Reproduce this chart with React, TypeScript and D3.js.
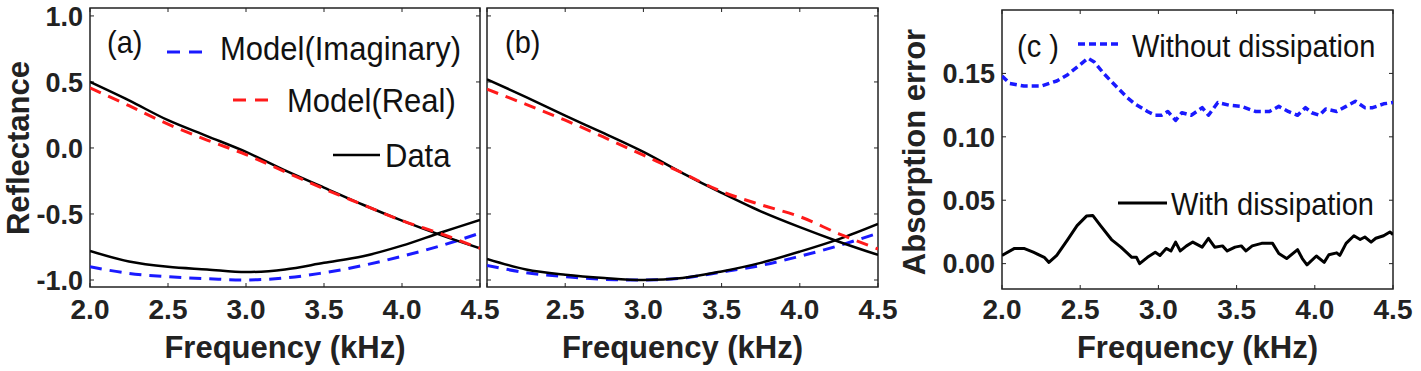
import React, { useEffect, useRef } from 'react';
import * as d3 from 'd3';

// frequency grid for panels (a) and (b), kHz
const freqAB = [2.0, 2.25, 2.5, 2.75, 3.0, 3.25, 3.5, 3.75, 4.0, 4.25, 4.5];

// panel (a)
const aDataReal = [0.5, 0.36, 0.21, 0.09, -0.03, -0.17, -0.3, -0.43, -0.55, -0.66, -0.76];
const aModelReal = [0.455, 0.32, 0.18, 0.06, -0.05, -0.18, -0.31, -0.43, -0.55, -0.65, -0.76];
const aDataImag = [-0.78, -0.86, -0.9, -0.92, -0.94, -0.92, -0.87, -0.82, -0.74, -0.64, -0.545];
const aModelImag = [-0.9, -0.95, -0.975, -0.99, -1.0, -0.985, -0.945, -0.89, -0.82, -0.74, -0.645];

// panel (b)
const bDataReal = [0.52, 0.385, 0.245, 0.11, -0.03, -0.19, -0.34, -0.48, -0.6, -0.71, -0.81];
const bModelReal = [0.445, 0.33, 0.21, 0.08, -0.055, -0.19, -0.33, -0.43, -0.52, -0.65, -0.765];
const bDataImag = [-0.84, -0.92, -0.96, -0.985, -1.0, -0.985, -0.935, -0.87, -0.785, -0.69, -0.575];
const bModelImag = [-0.89, -0.945, -0.975, -0.995, -1.0, -0.985, -0.94, -0.89, -0.82, -0.74, -0.645];

// panel (c): absorption error
const freqWithout = [2.0, 2.05, 2.14, 2.25, 2.35, 2.42, 2.5, 2.55, 2.59, 2.65, 2.72, 2.8, 2.85, 2.93, 2.98, 3.02, 3.06, 3.11, 3.15, 3.21, 3.28, 3.32, 3.38, 3.45, 3.53, 3.62, 3.71, 3.77, 3.83, 3.89, 3.94, 3.98, 4.03, 4.07, 4.14, 4.2, 4.26, 4.32, 4.37, 4.44, 4.5];
const errWithout = [0.148, 0.142, 0.14, 0.14, 0.144, 0.149, 0.157, 0.162, 0.159, 0.15, 0.141, 0.131, 0.126, 0.12, 0.117, 0.117, 0.12, 0.113, 0.119, 0.117, 0.123, 0.117, 0.127, 0.125, 0.124, 0.12, 0.12, 0.124, 0.12, 0.117, 0.123, 0.119, 0.117, 0.122, 0.12, 0.124, 0.128, 0.123, 0.123, 0.126, 0.127];
const freqWith = [2.0, 2.08, 2.14, 2.2, 2.27, 2.3, 2.35, 2.42, 2.48, 2.54, 2.58, 2.63, 2.7, 2.76, 2.83, 2.86, 2.88, 2.93, 2.98, 3.01, 3.05, 3.08, 3.11, 3.14, 3.18, 3.22, 3.28, 3.32, 3.36, 3.41, 3.44, 3.49, 3.53, 3.56, 3.6, 3.66, 3.73, 3.77, 3.82, 3.89, 3.92, 3.95, 4.01, 4.06, 4.09, 4.14, 4.16, 4.2, 4.25, 4.29, 4.32, 4.36, 4.39, 4.44, 4.48, 4.5];
const errWith = [0.0065, 0.012, 0.012, 0.009, 0.005, 0.001, 0.0065, 0.019, 0.03, 0.0375, 0.038, 0.03, 0.019, 0.013, 0.005, 0.005, 0.0, 0.005, 0.009, 0.0065, 0.012, 0.01, 0.017, 0.01, 0.014, 0.017, 0.013, 0.02, 0.013, 0.014, 0.01, 0.013, 0.014, 0.01, 0.014, 0.016, 0.016, 0.008, 0.004, 0.011, 0.004, -0.001, 0.006, 0.001, 0.007, 0.0085, 0.0065, 0.016, 0.022, 0.019, 0.021, 0.017, 0.02, 0.022, 0.025, 0.023];

const xTicks = [2.0, 2.5, 3.0, 3.5, 4.0, 4.5];
const yTicksAB = [-1.0, -0.5, 0.0, 0.5, 1.0];
const yTicksC = [0.0, 0.05, 0.1, 0.15];

const FONT = 'Liberation Sans, Arial, Helvetica, sans-serif';
const AXIS = '#222';
const BLUE = '#1a1aff';
const RED = '#ff1a1a';

const App = () => {
  const svgRef = useRef(null);

  useEffect(() => {
    const width = 1421;
    const height = 371;

    d3.select(svgRef.current).selectAll('*').remove();
    const svg = d3.select(svgRef.current).attr('width', width).attr('height', height);

    const panels = [
      { id: 'a', left: 90, right: 480, top: 8, bottom: 287, ydom: [-1.053, 1.06], yTicks: yTicksAB, yfmt: 1, yLabels: true, xLabelSkip: [] },
      { id: 'b', left: 487, right: 878, top: 8, bottom: 287, ydom: [-1.053, 1.06], yTicks: yTicksAB, yfmt: 1, yLabels: false, xLabelSkip: [2.0] },
      { id: 'c', left: 1002, right: 1393, top: 10, bottom: 289, ydom: [-0.02, 0.2], yTicks: yTicksC, yfmt: 2, yLabels: true, xLabelSkip: [] },
    ];

    const scales = {};

    panels.forEach(p => {
      const x = d3.scaleLinear().domain([2.0, 4.5]).range([p.left, p.right]);
      const y = d3.scaleLinear().domain(p.ydom).range([p.bottom, p.top]);
      scales[p.id] = { x, y };

      svg.append('clipPath').attr('id', 'clip-' + p.id)
        .append('rect')
        .attr('x', p.left).attr('y', p.top)
        .attr('width', p.right - p.left).attr('height', p.bottom - p.top);

      const g = svg.append('g');
      const tl = 4;
      // ticks on all four sides, pointing inward
      xTicks.forEach(t => {
        g.append('line').attr('x1', x(t)).attr('x2', x(t)).attr('y1', p.bottom).attr('y2', p.bottom - tl)
          .attr('stroke', AXIS).attr('stroke-width', 1);
        g.append('line').attr('x1', x(t)).attr('x2', x(t)).attr('y1', p.top).attr('y2', p.top + tl)
          .attr('stroke', AXIS).attr('stroke-width', 1);
        if (!p.xLabelSkip.includes(t)) {
          g.append('text').attr('x', x(t)).attr('y', 319)
            .attr('text-anchor', 'middle').attr('font-family', FONT).attr('font-weight', 'bold')
            .attr('font-size', 28).attr('fill', AXIS).text(t.toFixed(1));
        }
      });
      p.yTicks.forEach(t => {
        g.append('line').attr('x1', p.left).attr('x2', p.left + tl).attr('y1', y(t)).attr('y2', y(t))
          .attr('stroke', AXIS).attr('stroke-width', 1);
        g.append('line').attr('x1', p.right).attr('x2', p.right - tl).attr('y1', y(t)).attr('y2', y(t))
          .attr('stroke', AXIS).attr('stroke-width', 1);
        if (p.yLabels) {
          g.append('text').attr('x', p.left - 7).attr('y', y(t)).attr('dy', '0.36em')
            .attr('text-anchor', 'end').attr('font-family', FONT).attr('font-weight', 'bold')
            .attr('font-size', 27).attr('fill', AXIS).text(t.toFixed(p.yfmt));
        }
      });
      g.append('rect').attr('x', p.left).attr('y', p.top)
        .attr('width', p.right - p.left).attr('height', p.bottom - p.top)
        .attr('fill', 'none').attr('stroke', AXIS).attr('stroke-width', 1.5);

      // x axis title
      svg.append('text').attr('x', (p.left + p.right) / 2).attr('y', 358)
        .attr('text-anchor', 'middle').attr('font-family', FONT).attr('font-weight', 'bold')
        .attr('font-size', 31).attr('fill', AXIS).text('Frequency (kHz)');
    });

    const drawLine = (id, xs, ys, color, width, dash, curve) => {
      const { x, y } = scales[id];
      const line = d3.line()
        .x((d, i) => x(xs[i]))
        .y(d => y(d))
        .curve(curve);
      svg.append('path')
        .datum(ys)
        .attr('clip-path', `url(#clip-${id})`)
        .attr('d', line)
        .attr('fill', 'none')
        .attr('stroke', color)
        .attr('stroke-width', width)
        .attr('stroke-dasharray', dash)
        .attr('stroke-linejoin', 'round');
    };

    const smooth = d3.curveCatmullRom;
    drawLine('a', freqAB, aModelImag, BLUE, 3, '12,8', smooth);
    drawLine('a', freqAB, aDataImag, '#000', 2.5, null, smooth);
    drawLine('a', freqAB, aDataReal, '#000', 2.5, null, smooth);
    drawLine('a', freqAB, aModelReal, RED, 3, '12,8', smooth);

    drawLine('b', freqAB, bModelImag, BLUE, 3, '12,8', smooth);
    drawLine('b', freqAB, bDataImag, '#000', 2.5, null, smooth);
    drawLine('b', freqAB, bDataReal, '#000', 2.5, null, smooth);
    drawLine('b', freqAB, bModelReal, RED, 3, '12,8', smooth);

    drawLine('c', freqWithout, errWithout, BLUE, 3.5, '7,4', d3.curveLinear);
    drawLine('c', freqWith, errWith, '#000', 3, null, d3.curveLinear);

    // y axis titles
    svg.append('text').attr('transform', 'translate(29,148) rotate(-90)')
      .attr('text-anchor', 'middle').attr('font-family', FONT).attr('font-weight', 'bold')
      .attr('font-size', 31).attr('fill', AXIS).text('Reflectance');
    svg.append('text').attr('transform', 'translate(925,152) rotate(-90)')
      .attr('text-anchor', 'middle').attr('font-family', FONT).attr('font-weight', 'bold')
      .attr('font-size', 31).attr('fill', AXIS).text('Absorption error');

    // panel labels and legends (text in the figure is slightly taller than Arial)
    const label = (tx, ty, txt, size) => svg.append('text')
      .attr('transform', `translate(${tx},${ty}) scale(1,1.1)`)
      .attr('font-family', FONT).attr('font-size', size).attr('fill', '#111').text(txt);
    const sample = (x1, x2, yy, color, w, dash) => svg.append('line')
      .attr('x1', x1).attr('x2', x2).attr('y1', yy).attr('y2', yy)
      .attr('stroke', color).attr('stroke-width', w).attr('stroke-dasharray', dash);

    label(107, 53, '(a)', 29);
    sample(167, 207, 52, BLUE, 3, '13,9');
    label(220, 60, 'Model(Imaginary)', 31);
    sample(233, 273, 100, RED, 3, '13,9');
    label(287, 112, 'Model(Real)', 31);
    sample(333, 380, 155, '#000', 2.5, null);
    label(385, 167, 'Data', 31);

    label(505, 53, '(b)', 29);

    label(1017, 57, '(c )', 29);
    sample(1078, 1122, 44, BLUE, 3.5, '7,4');
    label(1132, 57, 'Without dissipation', 29);
    sample(1118, 1167, 203, '#000', 3, null);
    label(1171, 215, 'With dissipation', 29);
  }, []);

  return <svg ref={svgRef} style={{ position: 'absolute', left: 0, top: 0 }}></svg>;
};

export default App;
